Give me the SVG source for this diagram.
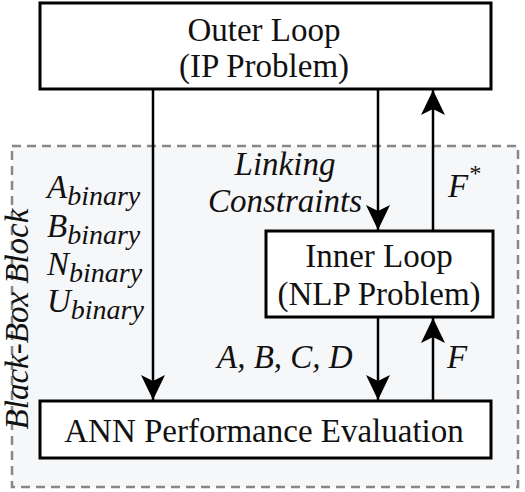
<svg xmlns="http://www.w3.org/2000/svg" width="525" height="492" viewBox="0 0 525 492">
<defs>
<style>
.box{fill:#fff;stroke:#000;stroke-width:3}
.t{font-family:"Liberation Serif","Times New Roman",serif;font-size:33px;fill:#111}
.i{font-style:italic}
.c{text-anchor:middle}
.ln{stroke:#000;stroke-width:2.5;fill:none}
</style>
<marker id="ad" markerUnits="userSpaceOnUse" markerWidth="26" markerHeight="26" viewBox="-25 -13 26 26" refX="0" refY="0" orient="auto" overflow="visible">
<path d="M0,0 L-25,-12 L-19,0 L-25,12 Z" fill="#000"/>
</marker>
</defs>
<rect width="525" height="492" fill="#fff"/>
<g id="blackbox">
<rect x="12" y="146" width="506" height="341" fill="#f6f7f9" stroke="#888" stroke-width="2.5" stroke-dasharray="9,6"/>
<text class="t i c" font-size="32" transform="translate(28,319) rotate(-90)">Black-Box Block</text>
</g>
<g id="connectors">
<line class="ln" x1="153" y1="89" x2="153" y2="400" marker-end="url(#ad)"/>
<line class="ln" x1="378" y1="89" x2="378" y2="230" marker-end="url(#ad)"/>
<line class="ln" x1="433" y1="230" x2="433" y2="90" marker-end="url(#ad)"/>
<line class="ln" x1="378" y1="318" x2="378" y2="400" marker-end="url(#ad)"/>
<line class="ln" x1="433" y1="400" x2="433" y2="318" marker-end="url(#ad)"/>
<text class="t i" x="47" y="198" font-size="32">A<tspan dy="7" font-size="28">binary</tspan></text>
<text class="t i" x="47" y="237" font-size="32">B<tspan dy="7" font-size="28">binary</tspan></text>
<text class="t i" x="47" y="275" font-size="32">N<tspan dy="7" font-size="28">binary</tspan></text>
<text class="t i" x="47" y="312" font-size="32">U<tspan dy="7" font-size="28">binary</tspan></text>
<text class="t i c" x="285" y="175">Linking</text>
<text class="t i c" x="285" y="212">Constraints</text>
<text class="t i" x="448" y="197">F<tspan dy="-16" font-size="24">*</tspan></text>
<text class="t i" x="217" y="368">A, B, C, D</text>
<text class="t i" x="447" y="368">F</text>
</g>
<g id="outer">
<rect class="box" x="40" y="3" width="451" height="86"/>
<text class="t c" x="264" y="41">Outer Loop</text>
<text class="t c" x="264" y="77">(IP Problem)</text>
</g>
<g id="inner">
<rect class="box" x="266" y="231" width="227" height="86"/>
<text class="t c" x="379" y="267">Inner Loop</text>
<text class="t c" x="379" y="305">(NLP Problem)</text>
</g>
<g id="ann">
<rect class="box" x="40" y="401" width="451" height="57"/>
<text class="t c" x="264" y="442">ANN Performance Evaluation</text>
</g>
</svg>
